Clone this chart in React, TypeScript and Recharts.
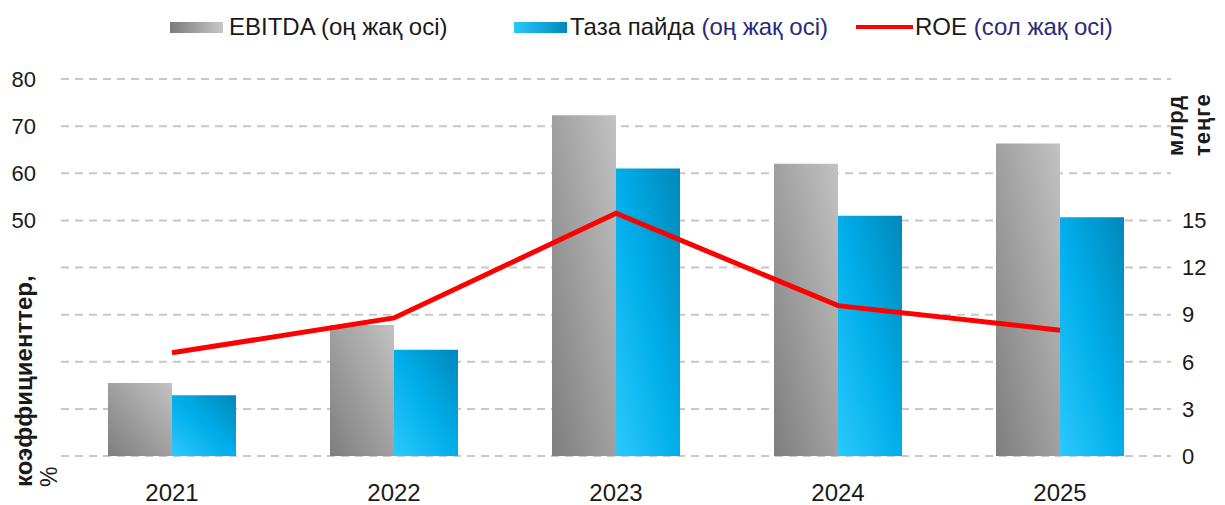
import React from 'react';
import {
  ComposedChart, Bar, Line, XAxis, YAxis, CartesianGrid, Label
} from 'recharts';

const years = ['2021', '2022', '2023', '2024', '2025'];
const ebitda = [4.65, 8.34, 21.7, 18.6, 19.9];
const netProfit = [3.87, 6.77, 18.3, 15.3, 15.2];
const roe = [21.9, 29.3, 51.5, 31.9, 26.7];

const leftTicks = [50, 60, 70, 80];
const rightTicks = [0, 3, 6, 9, 12, 15, 18, 21, 24];
const rightShown = [0, 3, 6, 9, 12, 15];

const data = years.map((year, i) => ({
  year,
  ebitda: ebitda[i],
  netProfit: netProfit[i],
  roe: roe[i],
}));

const FONT = '"Liberation Sans", Arial, sans-serif';
const TEXT = '#1a1a1a';
const AXIS_NOTE = '#2a2a7a';

const LeftTitle = () => (
  <g fontFamily={FONT} fill={TEXT}>
    <text x={32} y={487} transform="rotate(-90 32 487)" fontSize={24} fontWeight="bold">
      коэффициенттер,
    </text>
    <text x={57} y={487} transform="rotate(-90 57 487)" fontSize={23}>
      %
    </text>
  </g>
);

const RightTitle = () => (
  <g fontFamily={FONT} fill={TEXT} fontWeight="bold" fontSize={22}>
    <text x={1183} y={156} transform="rotate(-90 1183 156)" letterSpacing={1}>
      млрд
    </text>
    <text x={1210} y={156} transform="rotate(-90 1210 156)" letterSpacing={1}>
      теңге
    </text>
  </g>
);

const legendText: React.CSSProperties = {
  position: 'absolute',
  top: 15,
  fontSize: 24,
  lineHeight: '24px',
  fontFamily: FONT,
  color: TEXT,
  whiteSpace: 'nowrap',
};

const ChartLegend = () => (
  <div style={{ position: 'absolute', left: 0, top: 0, width: 1225, height: 50 }}>
    <div style={{
      position: 'absolute', left: 170, top: 22, width: 53, height: 11,
      background: 'linear-gradient(to right, #7a7a7a, #c8c8c8)',
    }} />
    <div style={{ ...legendText, left: 229 }}>EBITDA (оң жақ осі)</div>
    <div style={{
      position: 'absolute', left: 514, top: 22, width: 53, height: 11,
      background: 'linear-gradient(to right, #2ac8fc, #0088bb)',
    }} />
    <div style={{ ...legendText, left: 570 }}>
      Таза пайда <span style={{ color: AXIS_NOTE }}>(оң жақ осі)</span>
    </div>
    <div style={{
      position: 'absolute', left: 856, top: 25, width: 57, height: 4, background: '#ff0000',
    }} />
    <div style={{ ...legendText, left: 915 }}>
      ROE <span style={{ color: AXIS_NOTE }}>(сол жақ осі)</span>
    </div>
  </div>
);

export default function App() {
  return (
    <div style={{ position: 'relative', width: 1225, height: 505, background: '#fff' }}>
      <style>{'body{margin:0}'}</style>
      <ComposedChart
        width={1225}
        height={505}
        data={data}
        margin={{ top: 79, right: 0, bottom: 9, left: 0 }}
        barCategoryGap={47}
        barGap={0}
      >
        <defs>
          <linearGradient id="gradGray" x1="0" y1="1" x2="1" y2="0">
            <stop offset="0%" stopColor="#7e7e7e" />
            <stop offset="100%" stopColor="#c2c2c2" />
          </linearGradient>
          <linearGradient id="gradBlue" x1="0" y1="1" x2="1" y2="0">
            <stop offset="0%" stopColor="#2bc9fd" />
            <stop offset="50%" stopColor="#00aeea" />
            <stop offset="100%" stopColor="#0088ba" />
          </linearGradient>
        </defs>
        <CartesianGrid
          yAxisId="right"
          vertical={false}
          stroke="#c8c8c8"
          strokeWidth={2}
          strokeDasharray="8 6"
        />
        <XAxis
          dataKey="year"
          height={40}
          axisLine={false}
          tickLine={false}
          tickMargin={22}
          tick={{ fill: TEXT, fontSize: 24, fontFamily: FONT }}
        />
        <YAxis
          yAxisId="left"
          orientation="left"
          width={61}
          domain={[0, 80]}
          ticks={leftTicks}
          axisLine={false}
          tickLine={false}
          tickMargin={19}
          tick={{ fill: TEXT, fontSize: 22, fontFamily: FONT }}
        >
          <Label content={<LeftTitle />} />
        </YAxis>
        <YAxis
          yAxisId="right"
          orientation="right"
          width={54}
          domain={[0, 24]}
          ticks={rightTicks}
          interval={0}
          axisLine={false}
          tickLine={false}
          tickMargin={5}
          tickFormatter={(v: number) => (rightShown.includes(v) ? String(v) : '')}
          tick={{ fill: TEXT, fontSize: 22, fontFamily: FONT }}
        >
          <Label content={<RightTitle />} />
        </YAxis>
        <Bar yAxisId="right" dataKey="ebitda" name="EBITDA" fill="url(#gradGray)" isAnimationActive={false} />
        <Bar yAxisId="right" dataKey="netProfit" name="Таза пайда" fill="url(#gradBlue)" isAnimationActive={false} />
        <Line
          yAxisId="left"
          type="linear"
          dataKey="roe"
          name="ROE"
          stroke="#ff0000"
          strokeWidth={5}
          dot={false}
          activeDot={false}
          isAnimationActive={false}
        />
      </ComposedChart>
      <ChartLegend />
    </div>
  );
}
